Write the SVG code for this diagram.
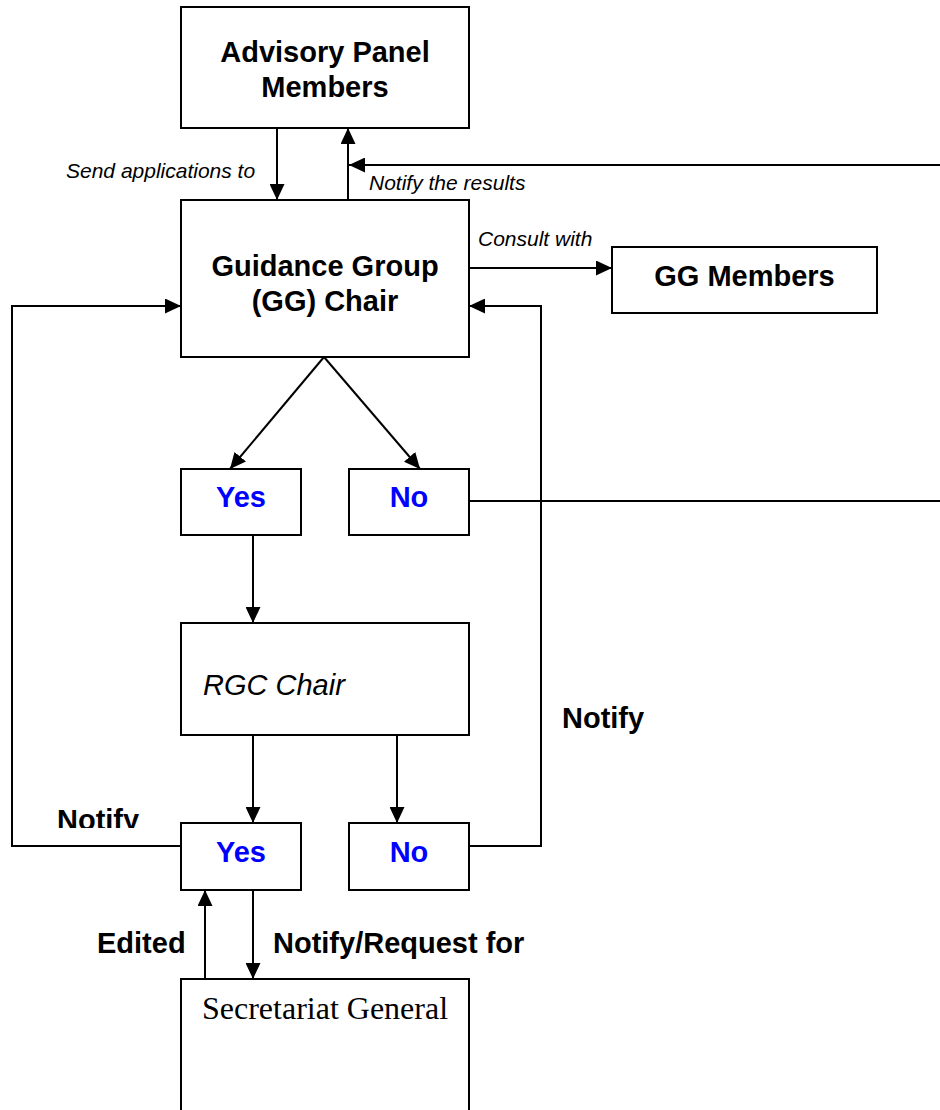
<svg xmlns="http://www.w3.org/2000/svg" width="940" height="1110" viewBox="0 0 940 1110">
<style>
.box{fill:#fff;stroke:#000;stroke-width:2}
.ln{fill:none;stroke:#000;stroke-width:2}
.arr{marker-end:url(#ah)}
.t{font-family:"Liberation Sans",Arial,sans-serif;font-weight:bold;font-size:29px;fill:#000}
.c{text-anchor:middle}
.blue{fill:#0000ff}
.i{font-family:"Liberation Sans",Arial,sans-serif;font-style:italic;font-size:21px;fill:#000}
.ri{font-family:"Liberation Sans",Arial,sans-serif;font-style:italic;font-size:29px;fill:#000}
.s{font-family:"Liberation Serif","Times New Roman",serif;font-size:32px;fill:#000}
</style>
<defs>
<marker id="ah" markerUnits="userSpaceOnUse" markerWidth="16" markerHeight="15" refX="16" refY="7.5" orient="auto">
<path d="M0,0 L16,7.5 L0,15 z" fill="#000"/>
</marker>
<clipPath id="clipNotify"><rect x="0" y="790" width="200" height="38"/></clipPath>
</defs>
<rect width="940" height="1110" fill="#fff"/>
<g id="connectors">
<line class="ln arr" x1="277" y1="128" x2="277" y2="200"/>
<line class="ln arr" x1="348" y1="200" x2="348" y2="128"/>
<line class="ln arr" x1="940" y1="165" x2="349" y2="165"/>
<line class="ln arr" x1="469" y1="268" x2="612" y2="268"/>
<polyline class="ln arr" points="181,846 12,846 12,306 181,306"/>
<polyline class="ln arr" points="469,846 541,846 541,306 469,306"/>
<line class="ln arr" x1="324" y1="357" x2="230" y2="469"/>
<line class="ln arr" x1="324" y1="357" x2="420" y2="469"/>
<line class="ln" x1="469" y1="501" x2="940" y2="501"/>
<line class="ln arr" x1="253" y1="535" x2="253" y2="623"/>
<line class="ln arr" x1="253" y1="735" x2="253" y2="823"/>
<line class="ln arr" x1="397" y1="735" x2="397" y2="823"/>
<line class="ln arr" x1="205" y1="981" x2="205" y2="890"/>
<line class="ln arr" x1="253" y1="890" x2="253" y2="979"/>
<text class="i" x="66" y="178">Send applications to</text>
<text class="i" x="369" y="190">Notify the results</text>
<text class="i" x="478" y="246">Consult with</text>
<text class="t" x="562" y="728">Notify</text>
<text class="t" x="57" y="830" clip-path="url(#clipNotify)">Notify</text>
<text class="t" x="97" y="953">Edited</text>
<text class="t" x="273" y="953">Notify/Request for</text>
</g>
<g id="advisory">
<rect class="box" x="181" y="7" width="288" height="121"/>
<text class="t c" x="325" y="62">Advisory Panel</text>
<text class="t c" x="325" y="97">Members</text>
</g>
<g id="gg-chair">
<rect class="box" x="181" y="200" width="288" height="157"/>
<text class="t c" x="325" y="276">Guidance Group</text>
<text class="t c" x="325" y="311">(GG) Chair</text>
</g>
<g id="gg-members">
<rect class="box" x="612" y="247" width="265" height="66"/>
<text class="t c" x="744.5" y="286">GG Members</text>
</g>
<g id="yes1">
<rect class="box" x="181" y="469" width="120" height="66"/>
<text class="t c blue" x="241" y="507">Yes</text>
</g>
<g id="no1">
<rect class="box" x="349" y="469" width="120" height="66"/>
<text class="t c blue" x="409" y="507">No</text>
</g>
<g id="rgc-chair">
<rect class="box" x="181" y="623" width="288" height="112"/>
<text class="ri" x="203" y="695">RGC Chair</text>
</g>
<g id="yes2">
<rect class="box" x="181" y="823" width="120" height="67"/>
<text class="t c blue" x="241" y="862">Yes</text>
</g>
<g id="no2">
<rect class="box" x="349" y="823" width="120" height="67"/>
<text class="t c blue" x="409" y="862">No</text>
</g>
<g id="secretariat">
<rect class="box" x="181" y="979" width="288" height="160"/>
<text class="s" x="202" y="1019">Secretariat General</text>
</g>
</svg>
